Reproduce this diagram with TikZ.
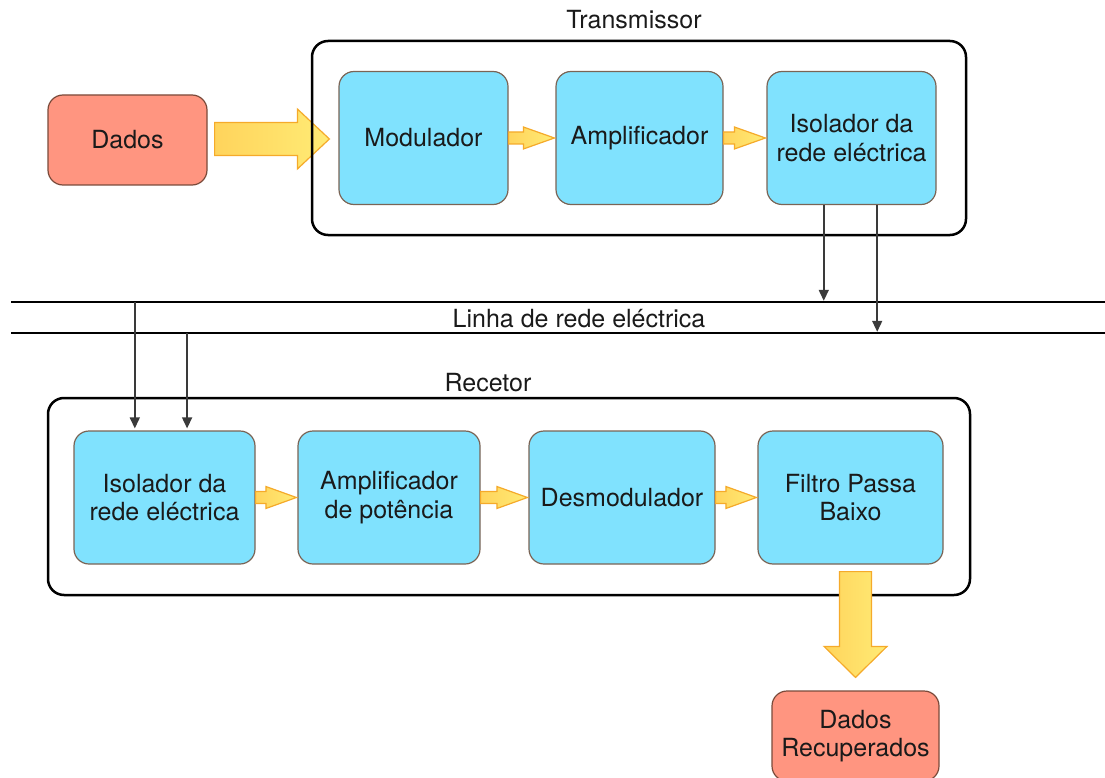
\documentclass[tikz,border=0pt]{standalone}
\usepackage{fontspec}
\setmainfont{TeX Gyre Heros}
\usetikzlibrary{calc,arrows.meta}
\definecolor{boxblue}{HTML}{80E2FE}
\definecolor{boxedge}{HTML}{7A6455}
\definecolor{salmon}{HTML}{FF9580}
\definecolor{salmonedge}{HTML}{7A4A3A}
\definecolor{arrowedge}{HTML}{F5AA2A}
\definecolor{yelA}{HTML}{FFD45C}
\definecolor{yelB}{HTML}{FFEB75}
\definecolor{connc}{HTML}{3A3A3A}
\definecolor{txt}{HTML}{1A1A1A}
\newcommand\fatH[5]{\path[fat] let \p1=(#1), \p2=(#2) in
  (\x1,\y1+#3pt) -- (\x2-#5pt,\y1+#3pt) -- (\x2-#5pt,\y1+#4pt) -- (\x2,\y1)
  -- (\x2-#5pt,\y1-#4pt) -- (\x2-#5pt,\y1-#3pt) -- (\x1,\y1-#3pt) -- cycle;}
\newcommand\fatV[5]{\path[fat] let \p1=(#1), \p2=(#2) in
  (\x1-#3pt,\y1) -- (\x1-#3pt,\y2+#5pt) -- (\x1-#4pt,\y2+#5pt) -- (\x1,\y2)
  -- (\x1+#4pt,\y2+#5pt) -- (\x1+#3pt,\y2+#5pt) -- (\x1+#3pt,\y1) -- cycle;}
\begin{document}
\begin{tikzpicture}[x=1pt,y=-1pt,
  every node/.style={font=\fontsize{25}{28.5}\selectfont, text=txt},
  block/.style={draw=boxedge, line width=1.2pt, fill=boxblue, rounded corners=15pt,
    align=center, inner sep=0pt, minimum height=133pt},
  datab/.style={draw=salmonedge, line width=1.2pt, fill=salmon, rounded corners=15pt,
    align=center, inner sep=0pt, minimum height=90pt},
  frame/.style={draw=black, line width=2.5pt, rounded corners=16pt, inner sep=0pt},
  conn/.style={draw=connc, line width=1.5pt, -{Triangle[length=11pt,width=10pt]}},
  fat/.style={draw=arrowedge, line width=1.2pt, left color=yelA, right color=yelB, line join=miter},
  powerline/.style={draw=black, line width=2.5pt}
]
\useasboundingbox (0,0) rectangle (1105,778);
\clip (0,0) rectangle (1105,778);

% transmitter
\node[datab, minimum width=159pt] (dados) at (127.5,140) {Dados};
\node[block, minimum width=169pt] (mod) at (423.5,138) {Modulador};
\node[block, minimum width=167pt] (amp) at (639.5,138) {Amplificador};
\node[block, minimum width=169pt] (isoT) at (851.5,138) {Isolador da\\rede eléctrica};

\fatH{$(dados.east)+(7,-1)$}{$(mod.west)+(-9,0)$}{16.5}{30}{32}
\node[frame, minimum width=654pt, minimum height=194pt] (tx) at (639,138) {};
\node (txt) at (634,20) {Transmissor};

\fatH{mod.east}{$(amp.west)+(-1,0)$}{6}{11}{31}
\fatH{amp.east}{$(isoT.west)+(-1,0)$}{6}{11}{31}

% power line
\coordinate (L1w) at (11,302);
\coordinate (L1e) at (1105,302);
\coordinate (L2w) at (11,333);
\coordinate (L2e) at (1105,333);
\draw[powerline] (L1w) -- (L1e);
\draw[powerline] (L2w) -- (L2e);
\node (linha) at (579,319) {Linha de rede eléctrica};

\coordinate (t1) at ($(isoT.south west)!0.337!(isoT.south east)$);
\coordinate (t2) at ($(isoT.south west)!0.651!(isoT.south east)$);
\draw[conn, shorten >=1.2pt] (t1) -- (t1 |- L1w);
\draw[conn, shorten >=1.2pt] (t2) -- (t2 |- L2w);

% receiver
\node[frame, minimum width=922pt, minimum height=197pt] (rx) at (509,496.5) {};
\node (rxt) at (488,383) {Recetor};
\node[block, minimum width=181pt] (isoR) at (164.5,497.5) {Isolador da\\rede eléctrica};
\node[block, minimum width=182pt] (ampP) at (389,497.5) {Amplificador\\de potência};
\node[block, minimum width=186pt] (desm) at (622,497.5) {Desmodulador};
\node[block, minimum width=185pt] (filt) at (850.5,497.5) {Filtro Passa\\Baixo};
\node[datab, minimum width=167pt] (dadr) at (855.5,736) {Dados\\Recuperados};

\coordinate (r1) at ($(isoR.north west)!0.337!(isoR.north east)$);
\coordinate (r2) at ($(isoR.north west)!0.624!(isoR.north east)$);
\draw[conn, shorten >=2pt] (r1 |- L1w) -- (r1);
\draw[conn, shorten >=2pt] (r2 |- L2w) -- (r2);

\fatH{isoR.east}{$(ampP.west)+(-1,0)$}{6}{11}{30.5}
\fatH{ampP.east}{$(desm.west)+(-1,0)$}{6}{11}{30.5}
\fatH{desm.east}{$(filt.west)+(-1,0)$}{6}{11}{30.5}

\fatV{$(dadr.north |- filt.south)+(0,7)$}{$(dadr.north)+(0,-13)$}{16}{31.5}{31}
\end{tikzpicture}
\end{document}
